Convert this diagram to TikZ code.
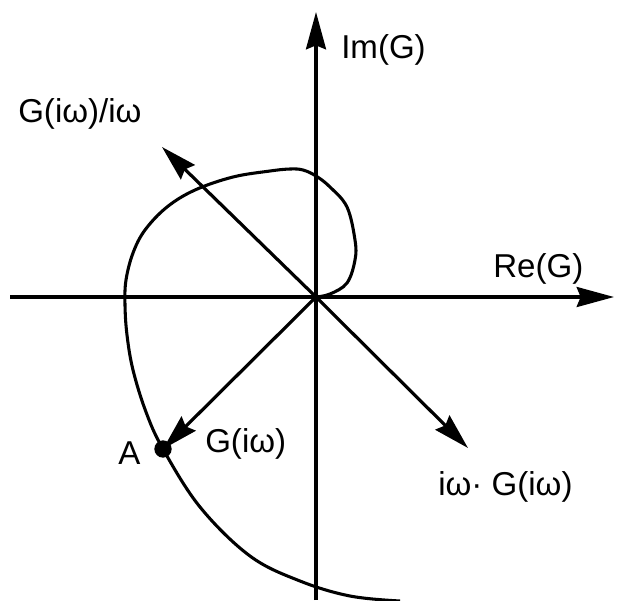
\documentclass[tikz,border=0pt]{standalone}
\usepackage{fontspec}
\setmainfont{Liberation Sans}
\usetikzlibrary{arrows.meta}
\tikzset{
  axisline/.style={line width=2.4pt, -{Stealth[length=28pt,width=15pt,inset=3pt]}},
  vecline/.style={line width=2.4pt, -{Stealth[length=27pt,width=15pt,inset=3pt]}},
  curveline/.style={line width=2.3pt},
  lbl/.style={inner sep=0pt, anchor=base west, font=\fontsize{24.8}{28}\selectfont},
  dotA/.style={circle, fill=black, draw=black, line width=1pt, minimum size=12pt, inner sep=0pt}
}
\begin{document}
\begin{tikzpicture}[x=0.75pt, y=-0.75pt]
\useasboundingbox (0,0) rectangle (617,600);
\coordinate (O) at (316,297);
\coordinate (xl) at (10,297);
\coordinate (xr) at (614,297);
\coordinate (yb) at (316,600);
\coordinate (yt) at (316,12);
\coordinate (tdiv) at (162,147);
\coordinate (tmul) at (468,448);
\node[dotA] (A) at (163,449) {};
% axes
\draw[axisline] (xl) -- (xr);
\draw[axisline] (yb) -- (yt);
% curve
\draw[curveline] plot[smooth, tension=0.6] coordinates {
 (316,297) (330,294) (347,283) (355,260) (355,240) (347,207) (330,187)
 (316,176) (303,170) (290,169) (270,171) (233,177) (195,190) (167,207) (145,230)
 (133,253) (126,280) (125,305) (127,335) (133,370) (146,412) (163,449)
 (200,507) (250,556) (300,581) (350,596) (400,601)};
% vectors
\draw[vecline] (O) -- (tdiv);
\draw[vecline] (O) -- (tmul);
\draw[vecline] (O) -- (A.center);
% labels
\node[lbl] (lim) at (341,58) {Im(G)};
\node[lbl] (lre) at (493,277) {Re(G)};
\node[lbl] (ldiv) at (18,122) {G(iω)/iω};
\node[lbl] (lmul) at (438,495) {iω· G(iω)};
\node[lbl] (lg) at (205,452) {G(iω)};
\node[lbl] (la) at (118,464) {A};
\end{tikzpicture}
\end{document}
